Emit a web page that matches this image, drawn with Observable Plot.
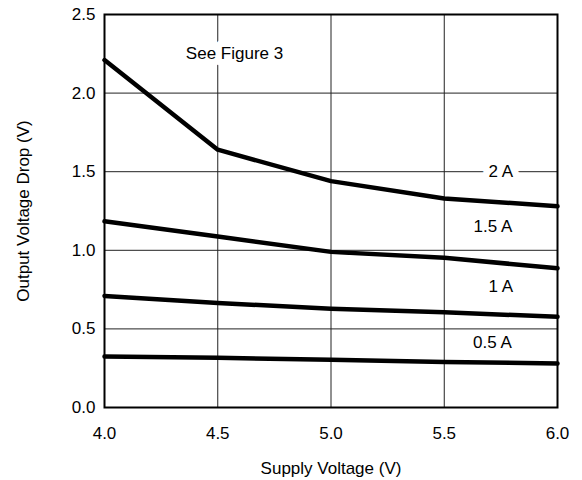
<!DOCTYPE html>
<html>
<head>
<meta charset="utf-8">
<script src="https://cdn.jsdelivr.net/npm/d3@7"></script>
<script src="https://cdn.jsdelivr.net/npm/@observablehq/plot@0.6"></script>
<style>
  html, body { margin: 0; padding: 0; background: #fff; }
</style>
</head>
<body>
<div id="chart"></div>
<script>
const voltages = [4.0, 4.5, 5.0, 5.5, 6.0];
const drop2A  = [2.21, 1.64, 1.44, 1.33, 1.28];
const drop15A = [1.185, 1.088, 0.99, 0.952, 0.886];
const drop1A  = [0.71, 0.665, 0.628, 0.606, 0.577];
const drop05A = [0.324, 0.316, 0.303, 0.29, 0.28];
const seriesNames = ["2 A", "1.5 A", "1 A", "0.5 A"];

const xTicks = [4.0, 4.5, 5.0, 5.5, 6.0];
const yTicks = [0.0, 0.5, 1.0, 1.5, 2.0, 2.5];

const labelText = ["See Figure 3", "2 A", "1.5 A", "1 A", "0.5 A"];
const labelX = [4.574, 5.75, 5.715, 5.75, 5.713];
const labelY = [2.25, 1.5, 1.151, 0.772, 0.415];

const seriesValues = [drop2A, drop15A, drop1A, drop05A];
const rows = [];
seriesNames.forEach((name, i) => {
  voltages.forEach((v, j) => rows.push({series: name, v, drop: seriesValues[i][j]}));
});
const labels = labelText.map((t, i) => ({t, x: labelX[i], y: labelY[i], i}));

const FS = 17;
const chart = Plot.plot({
  width: 582,
  height: 480,
  marginLeft: 104,
  marginRight: 25,
  marginTop: 14,
  marginBottom: 73,
  x: {domain: [4, 6]},
  y: {domain: [0, 2.5]},
  style: {fontFamily: "'Liberation Sans', Arial, Helvetica, sans-serif", fontSize: FS + "px", color: "#000", background: "#fff"},
  marks: [
    Plot.ruleX(xTicks, {stroke: "#222", strokeWidth: 1}),
    Plot.ruleY(yTicks, {stroke: "#222", strokeWidth: 1}),
    Plot.text(labels, {filter: d => d.i < 2, x: "x", y: "y", text: "t", fill: "black", stroke: "white", strokeWidth: 14, fontSize: FS}),
    Plot.text(labels, {filter: d => d.i >= 2, x: "x", y: "y", text: "t", fill: "black", fontSize: FS}),
    Plot.line(rows, {x: "v", y: "drop", z: "series", stroke: "black", strokeWidth: 4.5}),
    Plot.frame({stroke: "black", strokeWidth: 2}),
    Plot.axisX(xTicks, {tickSize: 0, tickPadding: 19, tickFormat: d => d.toFixed(1), label: null, fontSize: FS}),
    Plot.axisY(yTicks, {tickSize: 0, tickPadding: 9, tickFormat: d => d.toFixed(1), label: null, fontSize: FS}),
    Plot.text(["Supply Voltage (V)"], {frameAnchor: "bottom", textAnchor: "middle", lineAnchor: "middle", dy: 61, fontSize: FS}),
    Plot.text(["Output Voltage Drop (V)"], {frameAnchor: "left", textAnchor: "middle", lineAnchor: "middle", dx: -81, rotate: -90, fontSize: FS})
  ]
});
document.getElementById("chart").appendChild(chart);
</script>
</body>
</html>
